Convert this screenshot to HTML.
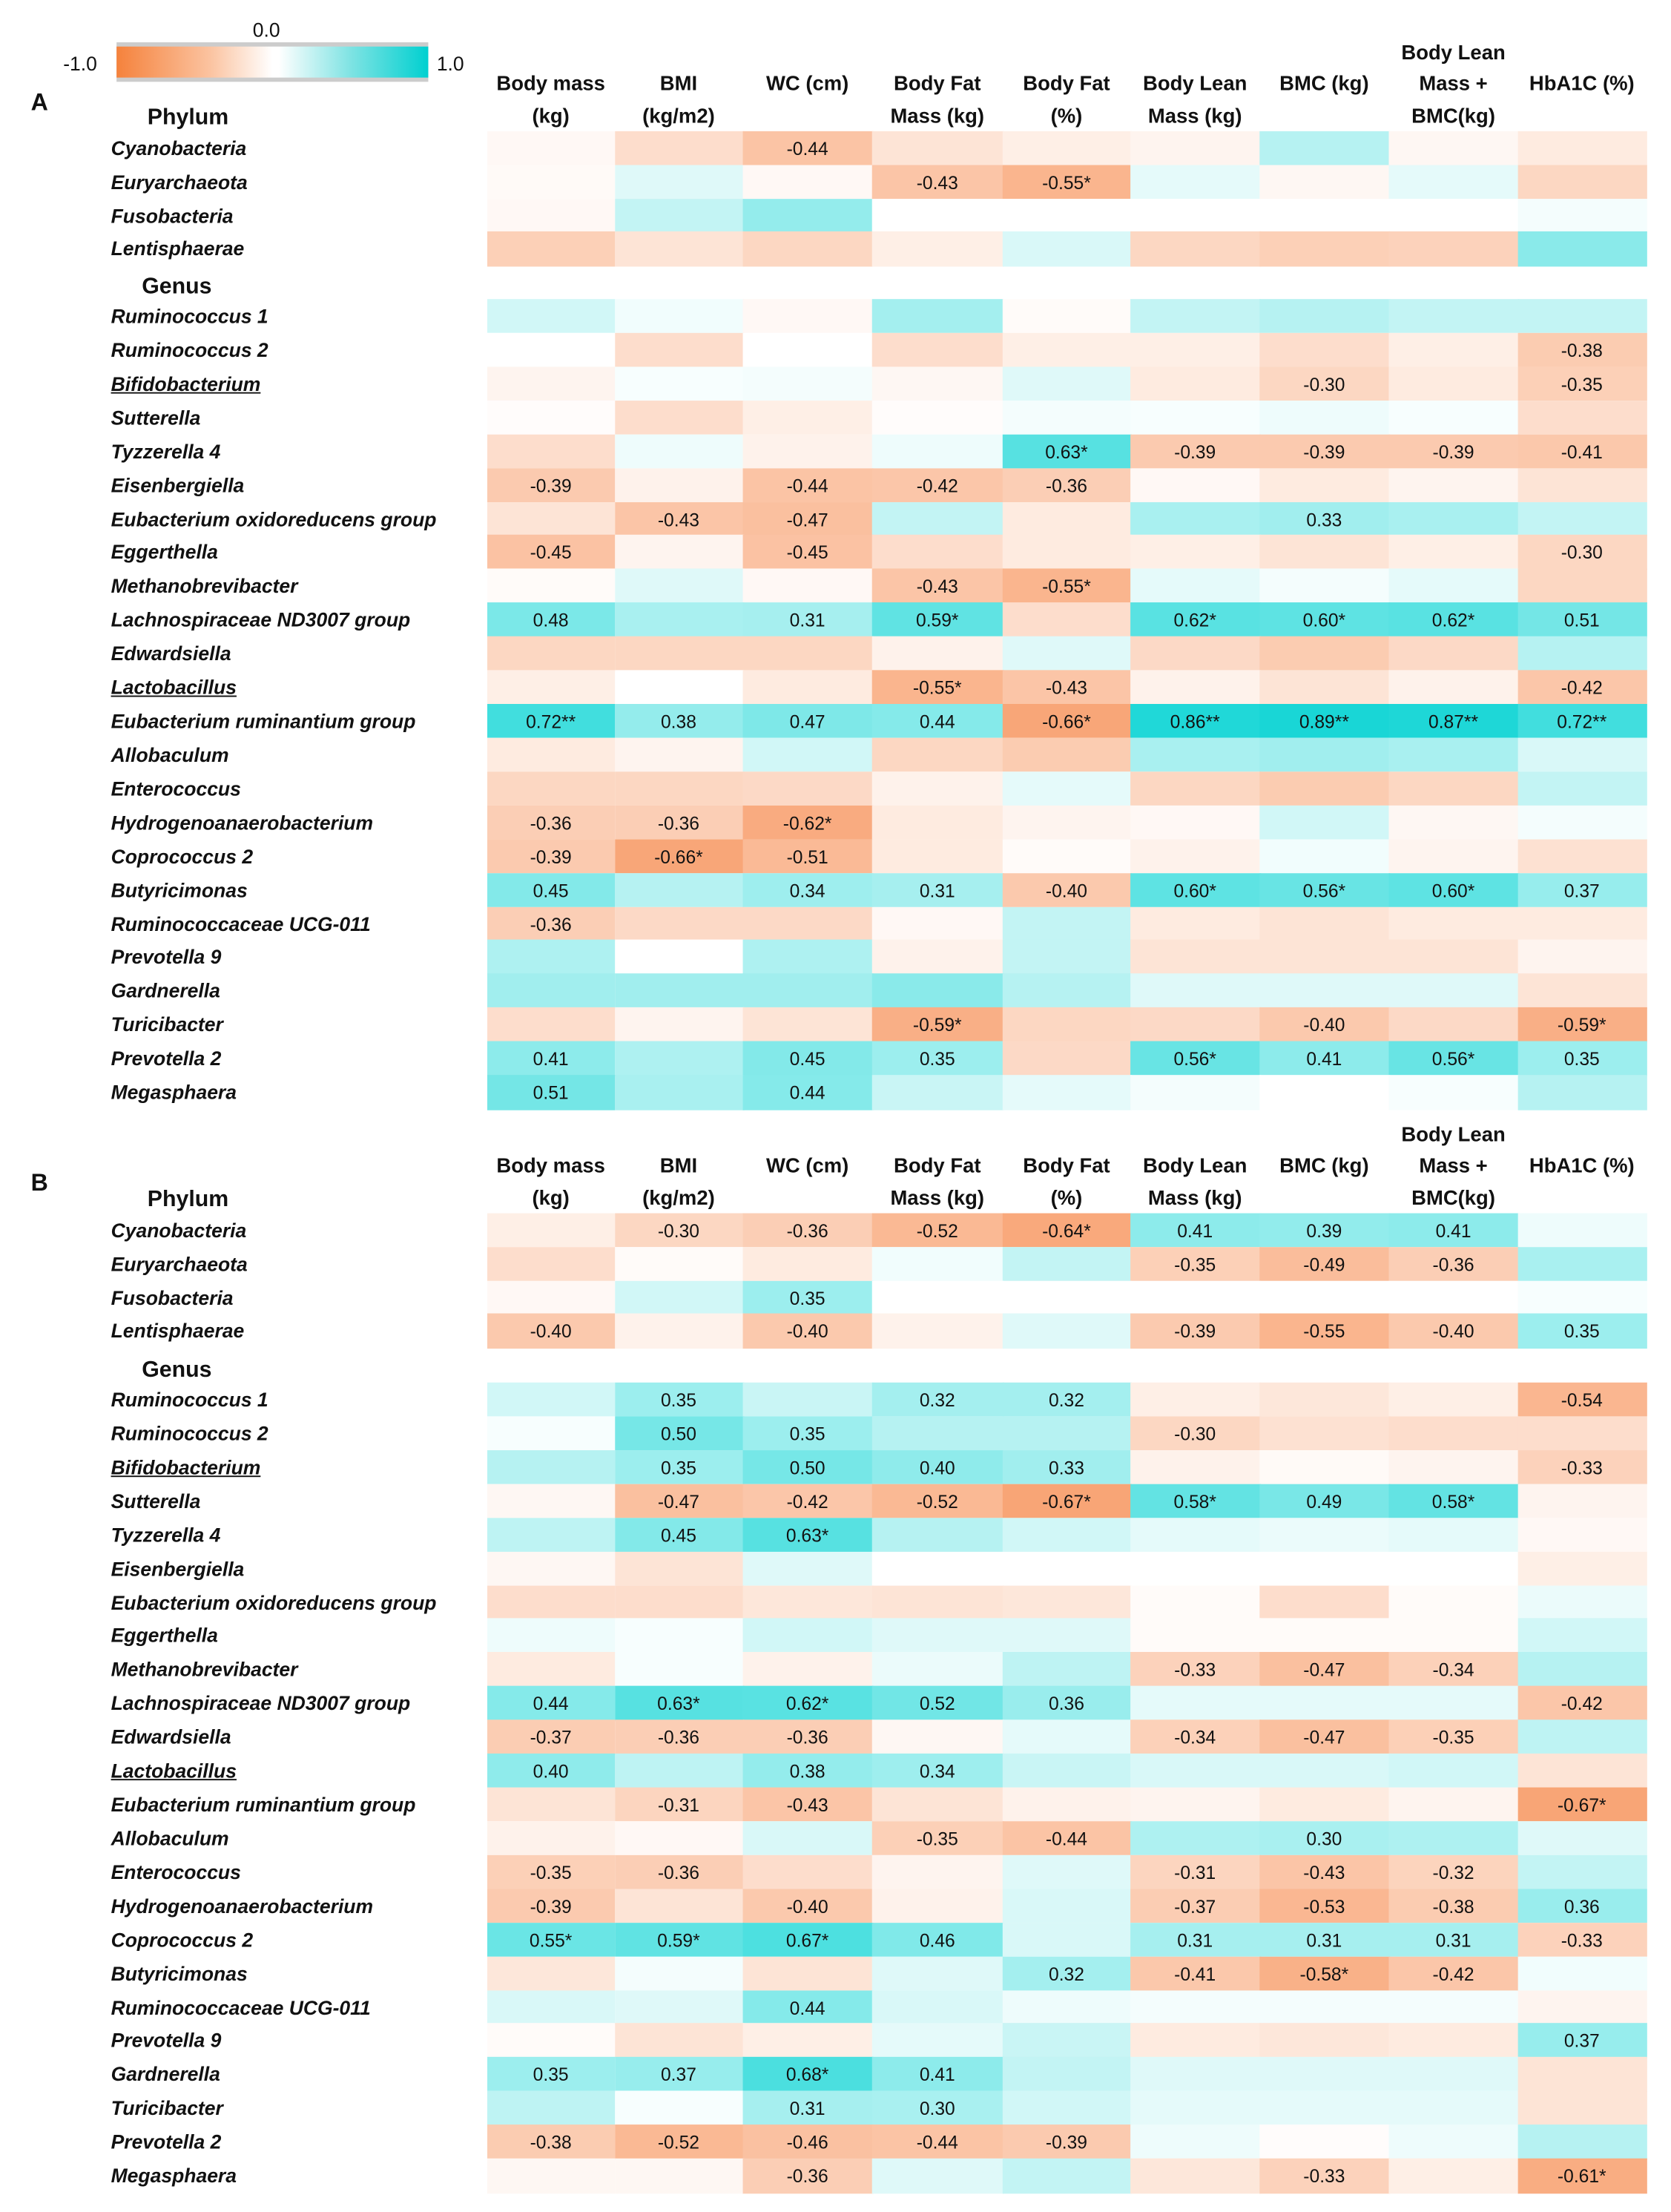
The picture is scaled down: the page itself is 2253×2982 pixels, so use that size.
<!DOCTYPE html>
<html><head><meta charset="utf-8">
<style>
html,body{margin:0;padding:0;background:#fff;}
#page{position:relative;width:2253px;height:2982px;overflow:hidden;background:#fff;}
#w{position:absolute;left:0;top:0;width:1190px;height:1568px;transform-origin:0 0;transform:scale(1.8933,1.9018);font-family:"Liberation Sans",sans-serif;color:#111;}
.c{position:absolute;}
.n{position:absolute;text-align:center;font-size:13px;line-height:1;}
.h{position:absolute;text-align:center;font-size:14.5px;font-weight:bold;width:100px;line-height:1;white-space:nowrap;}
.r{position:absolute;left:79px;font-size:14px;font-style:italic;font-weight:bold;white-space:nowrap;line-height:1;}
.t{position:absolute;font-size:16px;font-weight:bold;line-height:1;}
</style></head><body><div id="page"><div id="w">
<div class="c" style="left:83px;top:30px;width:222px;height:28px;background:#ccc;"></div>
<div class="c" style="left:83px;top:33px;width:222px;height:22px;background:linear-gradient(to right,#f5823c 0%,#fbc3a0 30%,#fff 50%,#fff 52%,#7fe3e3 75%,#00d0d0 100%);"></div>
<div class="c" style="left:180px;top:13px;font-size:14px;">0.0</div>
<div class="c" style="left:45px;top:37px;font-size:14px;">-1.0</div>
<div class="c" style="left:311px;top:37px;font-size:14px;">1.0</div>
<div id="g"></div>
</div></div>
<script>
var cols=[347,437.5,529,621,714,805,897,989,1081,1172];
var heads=[["Body mass","(kg)"],["BMI","(kg/m2)"],["WC (cm)"],["Body Fat","Mass (kg)"],["Body Fat","(%)"],["Body Lean","Mass (kg)"],["BMC (kg)"],["Body Lean","Mass +","BMC(kg)"],["HbA1C (%)"]];
var phy=["Cyanobacteria","Euryarchaeota","Fusobacteria","Lentisphaerae"];
var gen=["Ruminococcus 1","Ruminococcus 2","Bifidobacterium","Sutterella","Tyzzerella 4","Eisenbergiella","Eubacterium oxidoreducens group","Eggerthella","Methanobrevibacter","Lachnospiraceae ND3007 group","Edwardsiella","Lactobacillus","Eubacterium ruminantium group","Allobaculum","Enterococcus","Hydrogenoanaerobacterium","Coprococcus 2","Butyricimonas","Ruminococcaceae UCG-011","Prevotella 9","Gardnerella","Turicibacter","Prevotella 2","Megasphaera"];
var A=[
[-0.05,-0.25,"-0.44",-0.2,-0.12,-0.08,0.25,-0.06,-0.15],
[-0.04,0.1,-0.05,"-0.43","-0.55*",0.08,-0.06,0.08,-0.3],
[-0.05,0.2,0.38,0,0,0,0,0,0.03],
[-0.35,-0.2,-0.3,-0.12,0.12,-0.3,-0.35,-0.33,0.42],
[0.15,0.04,-0.05,0.32,-0.03,0.2,0.25,0.2,0.2],
[0,-0.25,0,-0.25,-0.12,-0.12,-0.25,-0.12,"-0.38"],
[-0.08,0.02,0.03,-0.06,0.1,-0.15,"-0.30",-0.15,"-0.35"],
[-0.02,-0.25,-0.12,-0.02,0.03,0.02,0.05,0.02,-0.25],
[-0.25,0.05,-0.1,0.05,"0.63*","-0.39","-0.39","-0.39","-0.41"],
["-0.39",-0.1,"-0.44","-0.42","-0.36",-0.05,-0.15,-0.08,-0.2],
[-0.2,"-0.43","-0.47",0.2,-0.15,0.3,"0.33",0.3,0.2],
["-0.45",-0.08,"-0.45",-0.25,-0.15,-0.12,-0.2,-0.12,"-0.30"],
[-0.03,0.1,-0.05,"-0.43","-0.55*",0.08,0.03,0.08,-0.3],
["0.48",0.3,"0.31","0.59*",-0.25,"0.62*","0.60*","0.62*","0.51"],
[-0.3,-0.3,-0.3,-0.1,0.1,-0.28,-0.38,-0.28,0.25],
[-0.12,0,-0.15,"-0.55*","-0.43",-0.1,-0.2,-0.1,"-0.42"],
["0.72**","0.38","0.47","0.44","-0.66*","0.86**","0.89**","0.87**","0.72**"],
[-0.15,-0.08,0.15,-0.3,-0.38,0.3,0.33,0.3,0.12],
[-0.3,-0.3,-0.28,-0.1,0.08,-0.3,-0.38,-0.3,0.2],
["-0.36","-0.36","-0.62*",-0.15,-0.08,-0.05,0.15,-0.06,0.03],
["-0.39","-0.66*","-0.51",-0.15,-0.03,-0.1,0.04,-0.08,-0.22],
["0.45",0.25,"0.34","0.31","-0.40","0.60*","0.56*","0.60*","0.37"],
["-0.36",-0.28,-0.28,-0.05,0.2,-0.15,-0.2,-0.15,-0.15],
[0.28,0,0.28,-0.1,0.2,-0.2,-0.2,-0.2,-0.08],
[0.33,0.33,0.33,0.42,0.25,0.1,0.1,0.1,-0.2],
[-0.25,-0.08,-0.2,"-0.59*",-0.3,-0.28,"-0.40",-0.28,"-0.59*"],
["0.41",0.28,"0.45","0.35",-0.28,"0.56*","0.41","0.56*","0.35"],
["0.51",0.3,"0.44",0.18,0.08,0.03,0,0.02,0.25]];
var B=[
[-0.12,"-0.30","-0.36","-0.52","-0.64*","0.41","0.39","0.41",0.05],
[-0.25,-0.03,-0.15,0.04,0.2,"-0.35","-0.49","-0.36",0.3],
[-0.05,0.15,"0.35",0,0,0,0,0,0.02],
["-0.40",-0.1,"-0.40",-0.1,0.1,"-0.39","-0.55","-0.40","0.35"],
[0.15,"0.35",0.18,"0.32","0.32",-0.12,-0.18,-0.12,"-0.54"],
[0.02,"0.50","0.35",0.25,0.25,"-0.30",-0.22,-0.25,-0.25],
[0.25,"0.35","0.50","0.40","0.33",-0.1,-0.04,-0.08,"-0.33"],
[-0.06,"-0.47","-0.42","-0.52","-0.67*","0.58*","0.49","0.58*",-0.08],
[0.22,"0.45","0.63*",0.25,0.15,0.08,0.06,0.08,-0.05],
[-0.06,-0.2,0.1,0,0,0,0,0,-0.12],
[-0.25,-0.25,-0.18,-0.2,-0.18,-0.03,-0.25,-0.03,0.06],
[0.05,0.02,0.15,0.1,0.1,-0.03,-0.03,-0.03,0.15],
[-0.15,0.02,-0.1,0.06,0.22,"-0.33","-0.47","-0.34",0.25],
["0.44","0.63*","0.62*","0.52","0.36",0.08,0.08,0.08,"-0.42"],
["-0.37","-0.36","-0.36",-0.06,0.08,"-0.34","-0.47","-0.35",0.22],
["0.40",0.22,"0.38","0.34",0.18,0.12,0.12,0.15,-0.2],
[-0.2,"-0.31","-0.43",-0.2,-0.1,-0.08,-0.15,-0.08,"-0.67*"],
[-0.1,-0.05,0.12,"-0.35","-0.44",0.28,"0.30",0.28,0.1],
["-0.35","-0.36",-0.25,-0.08,0.1,"-0.31","-0.43","-0.32",0.2],
["-0.39",-0.2,"-0.40",-0.1,0.12,"-0.37","-0.53","-0.38","0.36"],
["0.55*","0.59*","0.67*","0.46",0.12,"0.31","0.31","0.31","-0.33"],
[-0.18,0.03,-0.2,0.1,"0.32","-0.41","-0.58*","-0.42",0.04],
[0.12,0.1,"0.44",0.12,0.05,0.03,0.03,0.03,-0.08],
[-0.03,-0.2,-0.12,0.08,0.18,-0.15,-0.18,-0.15,"0.37"],
["0.35","0.37","0.68*","0.41",0.2,0.1,0.1,0.1,-0.2],
[0.22,0.02,"0.31","0.30",0.15,0.08,0.08,0.08,-0.2],
["-0.38","-0.52","-0.46","-0.44","-0.39",0.05,-0.02,0.05,0.25],
[-0.06,-0.06,"-0.36",0.1,0.2,-0.18,"-0.33",-0.12,"-0.61*"]];
function col(v){var t=Math.min(1,Math.abs(v));var r,g,b;
if(v<0){r=255-t*10;g=255-t*135;b=255-t*205;}else{t=Math.pow(t,0.9);r=255-t*255;g=255-t*45;b=255-t*45;}
return "rgb("+Math.round(r)+","+Math.round(g)+","+Math.round(b)+")";}
var h="";
function panel(D,letter,ly,hy,py,gy){
h+='<div class="t" style="left:22px;top:'+(ly-8)+'px;font-size:17px">'+letter+'</div>';
for(var i=0;i<9;i++){var L=heads[i];var cx=(cols[i]+cols[i+1])/2;
var ys=L.length==3?[hy-22,hy,hy+23]:(L.length==2?[hy,hy+23]:[hy]);
for(var k=0;k<L.length;k++)h+='<div class="h" style="left:'+(cx-50)+'px;top:'+(ys[k]-7)+'px">'+L[k]+'</div>';}
h+='<div class="t" style="left:105px;top:'+(py-17)+'px">Phylum</div>';
h+='<div class="t" style="left:101px;top:'+(gy-16)+'px">Genus</div>';
for(var r=0;r<28;r++){var top,ht;
if(r<4){top=py+r*23.75;ht=23.75;}else{top=gy+(r-4)*23.92;ht=23.92;}
var name=r<4?phy[r]:gen[r-4];
var u=(name=="Bifidobacterium"||name=="Lactobacillus")?"text-decoration:underline;":"";
h+='<div class="r" style="top:'+(top+5)+'px;'+u+'">'+name+'</div>';
for(var i=0;i<9;i++){var v=D[r][i];var lab="";if(typeof v=="string"){lab=v;v=parseFloat(v.replace(/\*/g,""));}
h+='<div class="c" style="left:'+cols[i]+'px;top:'+top+'px;width:'+(cols[i+1]-cols[i]+0.5)+'px;height:'+(ht+0.5)+'px;background:'+col(v)+'"></div>';
if(lab)h+='<div class="n" style="left:'+cols[i]+'px;width:'+(cols[i+1]-cols[i])+'px;top:'+(top+6)+'px">'+lab+'</div>';}}}
panel(A,"A",72,60,93,212);
panel(B,"B",838,827,860,980);
document.getElementById("g").innerHTML=h;
</script>
</body></html>
